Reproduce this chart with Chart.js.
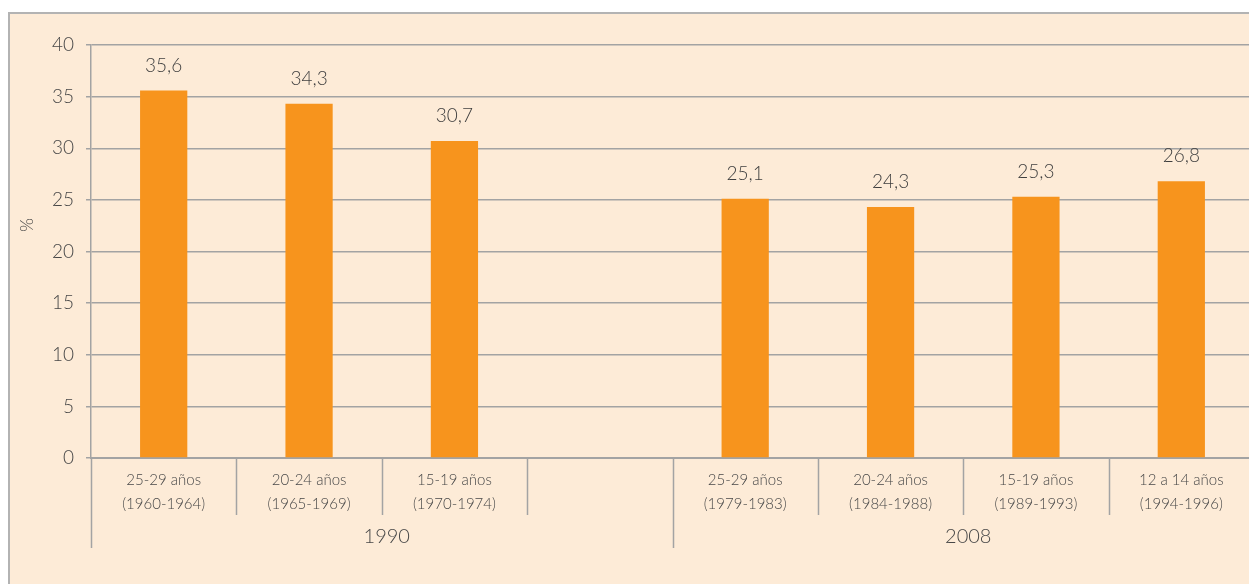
<!DOCTYPE html>
<html>
<head>
<meta charset="utf-8">
<script src="https://cdn.jsdelivr.net/npm/chart.js@4"></script>
<style>
  html, body { margin: 0; padding: 0; background: #fff; overflow: hidden; }
  #panel {
    position: absolute; left: 8px; top: 12px;
    width: 1260px; height: 580px;
    background: #fdebd7;
    border-top: 2px solid #b3b3b3;
    border-left: 2px solid #b3b3b3;
  }
  #chart { display: block; }
</style>
</head>
<body>
<div id="panel"><canvas id="chart" width="1246" height="570"></canvas></div>
<script>
// Cohortes por grupo de edad y año de la encuesta
const edades = ['25-29 años', '20-24 años', '15-19 años', '', '25-29 años', '20-24 años', '15-19 años', '12 a 14 años'];
const nacimientos = ['(1960-1964)', '(1965-1969)', '(1970-1974)', '', '(1979-1983)', '(1984-1988)', '(1989-1993)', '(1994-1996)'];
const valores = [35.6, 34.3, 30.7, null, 25.1, 24.3, 25.3, 26.8];
// grupos: [primer índice, último índice, etiqueta]
const grupos = [[0, 3, '1990'], [4, 7, '2008']];
const ticksY = [0, 5, 10, 15, 20, 25, 30, 35, 40];

const gris = '#a3a3a3';
const texto = '#484848';
const fuente = 'Lato, "Open Sans", sans-serif';

// Etiquetas de valor sobre cada barra
const etiquetasValor = {
  id: 'etiquetasValor',
  afterDatasetsDraw(chart) {
    const ctx = chart.ctx;
    const meta = chart.getDatasetMeta(0);
    ctx.save();
    ctx.font = '300 19px ' + fuente;
    ctx.fillStyle = '#3f3f3f';
    ctx.textAlign = 'center';
    ctx.textBaseline = 'middle';
    meta.data.forEach((bar, i) => {
      if (valores[i] == null) return;
      ctx.fillText(valores[i].toFixed(1).replace('.', ','), bar.x, bar.y - 25);
    });
    ctx.restore();
  }
};

// Separadores del eje X, nombres de grupo y título del eje Y
const ejeAgrupado = {
  id: 'ejeAgrupado',
  afterDraw(chart) {
    const ctx = chart.ctx;
    const x = chart.scales.x;
    const paso = x.getPixelForValue(1) - x.getPixelForValue(0);
    const borde = i => x.getPixelForValue(i) - paso / 2;
    const inicios = grupos.map(g => g[0]);
    ctx.save();
    ctx.strokeStyle = gris;
    ctx.lineWidth = 1.5;
    for (let i = 0; i <= edades.length; i++) {
      const px = Math.round(borde(i)) + 0.5;
      const largo = inicios.includes(i) ? 90 : 57;
      ctx.beginPath();
      ctx.moveTo(px, x.top);
      ctx.lineTo(px, x.top + largo);
      ctx.stroke();
    }
    ctx.font = '300 20px ' + fuente;
    ctx.fillStyle = texto;
    ctx.textAlign = 'center';
    ctx.textBaseline = 'middle';
    grupos.forEach(([a, b, nombre]) => {
      const cx = (borde(a) + borde(b + 1)) / 2;
      ctx.fillText(nombre, cx + 5, x.top + 79);
    });
    // título del eje Y
    ctx.font = '300 18px ' + fuente;
    ctx.translate(17, 211);
    ctx.rotate(-Math.PI / 2);
    ctx.fillText('%', 0, 0);
    ctx.restore();
  }
};

new Chart(document.getElementById('chart'), {
  type: 'bar',
  data: {
    labels: edades.map((e, i) => [e, nacimientos[i]]),
    datasets: [{
      data: valores,
      backgroundColor: '#f7941d',
      categoryPercentage: 1,
      barPercentage: 0.325
    }]
  },
  options: {
    responsive: false,
    animation: false,
    layout: { padding: { top: 31, right: 2, left: 0, bottom: 0 } },
    plugins: { legend: { display: false }, tooltip: { enabled: false } },
    scales: {
      x: {
        offset: true,
        grid: { display: false, drawTicks: false },
        border: { display: true, color: gris, width: 2 },
        ticks: {
          color: texto,
          font: { family: fuente, size: 15, weight: 300, lineHeight: 1.55 },
          padding: 11,
          maxRotation: 0,
          autoSkip: false
        },
        afterFit(s) { s.height = 126; }
      },
      y: {
        min: 0,
        max: 40,
        afterBuildTicks(s) { s.ticks = ticksY.map(v => ({ value: v })); },
        grid: { color: gris, lineWidth: 1.5, tickLength: 5 },
        border: { display: true, color: gris, width: 1.5 },
        ticks: {
          color: texto,
          font: { family: fuente, size: 19, weight: 300 },
          padding: 12
        },
        afterFit(s) { s.width = 81; }
      }
    }
  },
  plugins: [etiquetasValor, ejeAgrupado]
});
</script>
</body>
</html>
